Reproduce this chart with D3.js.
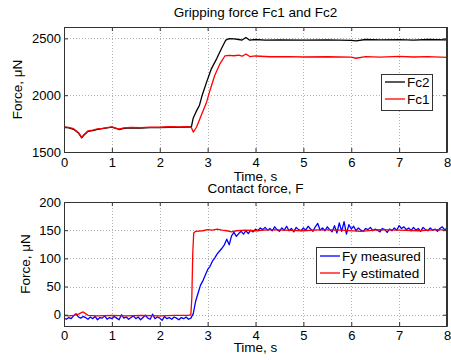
<!DOCTYPE html>
<html><head><meta charset="utf-8">
<script src="https://cdn.jsdelivr.net/npm/d3@7"></script>
<style>
body{margin:0;background:#fff;}
text{font-family:"Liberation Sans",Arial,sans-serif;fill:#000;}
</style></head>
<body><svg id="c" width="451" height="360"></svg>
<script>
// ---- data ----
const xTicks = [0,1,2,3,4,5,6,7,8];
const topYTicks = [1500,2000,2500];
const botYTicks = [0,50,100,150,200];

const fcTime = [0,0.1,0.2,0.3,0.37,0.42,0.5,0.6,0.7,0.8,0.9,1.0,1.1,1.15,1.25,1.4,1.6,1.8,2.0,2.2,2.4,2.6,2.66,2.70,2.76,2.83,2.88,2.98,3.08,3.19,3.29,3.38,3.45,3.55,3.65,3.72,3.80,3.88,4.0,4.2,4.5,5.0,5.5,6.0,6.1,6.3,6.6,7.0,7.3,7.6,8.0];
const fc2 = [1718,1712,1700,1668,1625,1650,1682,1688,1700,1705,1712,1718,1705,1698,1708,1713,1710,1715,1714,1718,1716,1720,1720,1800,1855,1912,1990,2117,2234,2322,2410,2485,2497,2495,2490,2485,2508,2484,2490,2485,2487,2484,2486,2482,2478,2490,2486,2489,2485,2490,2487];

const fc1Time = [0,0.1,0.2,0.3,0.37,0.42,0.5,0.6,0.7,0.8,0.9,1.0,1.1,1.15,1.25,1.4,1.6,1.8,2.0,2.2,2.4,2.6,2.66,2.70,2.77,2.87,2.98,3.05,3.15,3.26,3.36,3.45,3.55,3.65,3.72,3.80,3.88,4.0,4.3,4.7,5.0,5.5,6.0,6.1,6.3,6.6,7.0,7.3,7.6,8.0];
const fc1 = [1722,1716,1705,1672,1628,1655,1685,1692,1703,1708,1715,1722,1708,1702,1712,1717,1714,1719,1718,1722,1720,1722,1715,1675,1720,1825,1941,2044,2175,2278,2345,2350,2347,2352,2343,2362,2340,2345,2338,2340,2336,2338,2335,2325,2340,2335,2342,2336,2340,2333];

// Fy measured, sampled every 0.05 s from 0 to 8 s
const fyStep = 0.05;
const fyMeasured = [-6,-8,-5,-7,-2,2,-4,-6,-3,-5,-8,-4,-7,-3,-9,-5,-6,-2,-8,-5,
 -7,-3,-6,-9,0,-6,-4,-8,-5,-2,-7,-4,-9,-5,-1,-6,-8,1,-7,-4,
 -6,-10,-3,-7,-5,-8,-4,-6,-9,-5,-7,-4,-8,-6,2,24,38,52,60,70,
 80,86,95,101,108,113,118,124,134,124,140,146,139,144,148,143,149,144,150,147,
 152,149,154,151,155,150,153,149,156,151,148,154,150,157,149,153,147,155,151,149,
 154,150,157,152,148,156,162,150,154,149,156,151,147,158,145,163,148,165,143,160,
 152,157,149,154,150,148,153,151,155,149,152,150,147,153,151,146,152,149,154,150,
 158,153,156,151,154,149,155,150,153,148,155,151,149,154,150,152,148,153,156,151,153];

const fyEstTime = [0,0.1,0.2,0.3,0.4,0.45,0.5,0.7,1.0,1.3,1.6,2.0,2.3,2.6,2.65,2.67,2.69,2.71,2.75,2.9,3.0,3.1,3.2,3.3,3.4,3.5,3.6,3.8,4.0,4.3,4.6,5.0,5.4,5.8,6.2,6.6,7.0,7.4,7.8,8.0];
const fyEstimated = [-1,-2,-1,1,5,2,-1,-2,-1,-2,-1,-2,-1,-1,0,30,110,145,148,149,151,150,152,150,149,147,149,150,149,151,150,149,151,150,148,151,150,149,151,150];

// ---- drawing ----
const svg = d3.select("#c");
const L = 64, R = 447;
const x = d3.scaleLinear().domain([0,8]).range([L,R]);

function panel(p){
  const {y0, y1} = p;
  const y = d3.scaleLinear().domain(p.domain).range([y1,y0]);
  const g = svg.append("g");
  // grid
  const grid = g.append("g").attr("stroke","#b0b0b0").attr("stroke-width",1).attr("stroke-dasharray","1,2");
  xTicks.slice(1,-1).forEach(t=>grid.append("line").attr("x1",Math.round(x(t))+0.5).attr("x2",Math.round(x(t))+0.5).attr("y1",y0).attr("y2",y1));
  p.yTicks.forEach(t=>{ if(y(t)>y0+1 && y(t)<y1-1) grid.append("line").attr("x1",L).attr("x2",R).attr("y1",Math.round(y(t))+0.5).attr("y2",Math.round(y(t))+0.5);});
  // data
  const clip = "clip"+y0;
  svg.append("clipPath").attr("id",clip).append("rect").attr("x",L).attr("y",y0).attr("width",R-L).attr("height",y1-y0);
  p.series.forEach(s=>{
    g.append("path").attr("clip-path","url(#"+clip+")")
      .attr("d", d3.line().x(d=>x(d[0])).y(d=>y(d[1]))(s.data))
      .attr("fill","none").attr("stroke",s.color).attr("stroke-width",1.3).attr("stroke-linejoin","round");
  });
  // axes (inward ticks on all four sides)
  const ax = g.append("g").attr("transform",`translate(0,${y1})`)
    .call(d3.axisBottom(x).tickValues(xTicks).tickFormat(d3.format("d")).tickSizeInner(-4).tickSizeOuter(0));
  const ay = g.append("g").attr("transform",`translate(${L},0)`)
    .call(d3.axisLeft(y).tickValues(p.yTicks).tickFormat(d3.format("d")).tickSizeInner(-4).tickSizeOuter(0).tickPadding(3));
  const at = g.append("g").attr("transform",`translate(0,${y0})`)
    .call(d3.axisTop(x).tickValues(xTicks).tickFormat("").tickSizeInner(-4).tickSizeOuter(0));
  const ar = g.append("g").attr("transform",`translate(${R},0)`)
    .call(d3.axisRight(y).tickValues(p.yTicks).tickFormat("").tickSizeInner(-4).tickSizeOuter(0));
  [ax,ay,at,ar].forEach(a=>{a.selectAll("path").attr("stroke","#333");a.selectAll("line").attr("stroke","#333");
    a.selectAll("text").attr("font-size",13).attr("font-family","Liberation Sans, Arial, sans-serif").attr("fill","#000");});
  ax.selectAll("text").attr("y",p.tickBase).attr("dy",null);
  g.append("rect").attr("x",L+0.5).attr("y",y0+0.5).attr("width",R-L-1).attr("height",y1-y0).attr("fill","none").attr("stroke","#333");
  // labels
  g.append("text").attr("x",(L+R)/2).attr("y",p.titleY).attr("text-anchor","middle").attr("font-size",13.5).text(p.title);
  g.append("text").attr("x",(L+R)/2).attr("y",p.xLabelY).attr("text-anchor","middle").attr("font-size",13.5).text("Time, s");
  g.append("text").attr("transform",`translate(${p.ylx},${(y0+y1)/2}) rotate(-90)`).attr("text-anchor","middle").attr("font-size",13.5).text("Force, μN");
  // legend
  const lgd = p.legend;
  const lg = g.append("g");
  lg.append("rect").attr("x",lgd.x+0.5).attr("y",lgd.y+0.5).attr("width",lgd.w).attr("height",lgd.h).attr("fill","#fff").attr("stroke","#333");
  lgd.items.forEach((it,i)=>{
    const yy = lgd.y + lgd.rowY[i];
    lg.append("line").attr("x1",lgd.x+lgd.lx0).attr("x2",lgd.x+lgd.lx1).attr("y1",yy).attr("y2",yy).attr("stroke",it.color).attr("stroke-width",1.3);
    lg.append("text").attr("x",lgd.x+lgd.tx).attr("y",yy).attr("dy","0.35em").attr("font-size",13.5).text(it.name);
  });
}

panel({y0:27, y1:152, domain:[1500,2600], yTicks:topYTicks, title:"Gripping force Fc1 and Fc2", titleY:17,
  tickBase:15, xLabelY:180.5, ylx:22,
  series:[{data: fcTime.map((t,i)=>[t,fc2[i]]), color:"#000"},
          {data: fc1Time.map((t,i)=>[t,fc1[i]]), color:"#ff0000"}],
  legend:{x:381,y:74,w:51,h:36,lx0:4,lx1:24,tx:26,rowY:[8,25],
   items:[{name:"Fc2",color:"#000"},{name:"Fc1",color:"#ff0000"}]}});

panel({y0:202, y1:326, domain:[-20,200], yTicks:botYTicks, title:"Contact force, F", titleY:193,
  tickBase:13.5, xLabelY:352, ylx:30,
  series:[{data: fyMeasured.map((v,i)=>[i*fyStep,v]), color:"#0000ff"},
          {data: fyEstTime.map((t,i)=>[t,fyEstimated[i]]), color:"#ff0000"}],
  legend:{x:316,y:247,w:108,h:36,lx0:4,lx1:24,tx:26,rowY:[9,26],
   items:[{name:"Fy measured",color:"#0000ff"},{name:"Fy estimated",color:"#ff0000"}]}});
</script></body></html>
